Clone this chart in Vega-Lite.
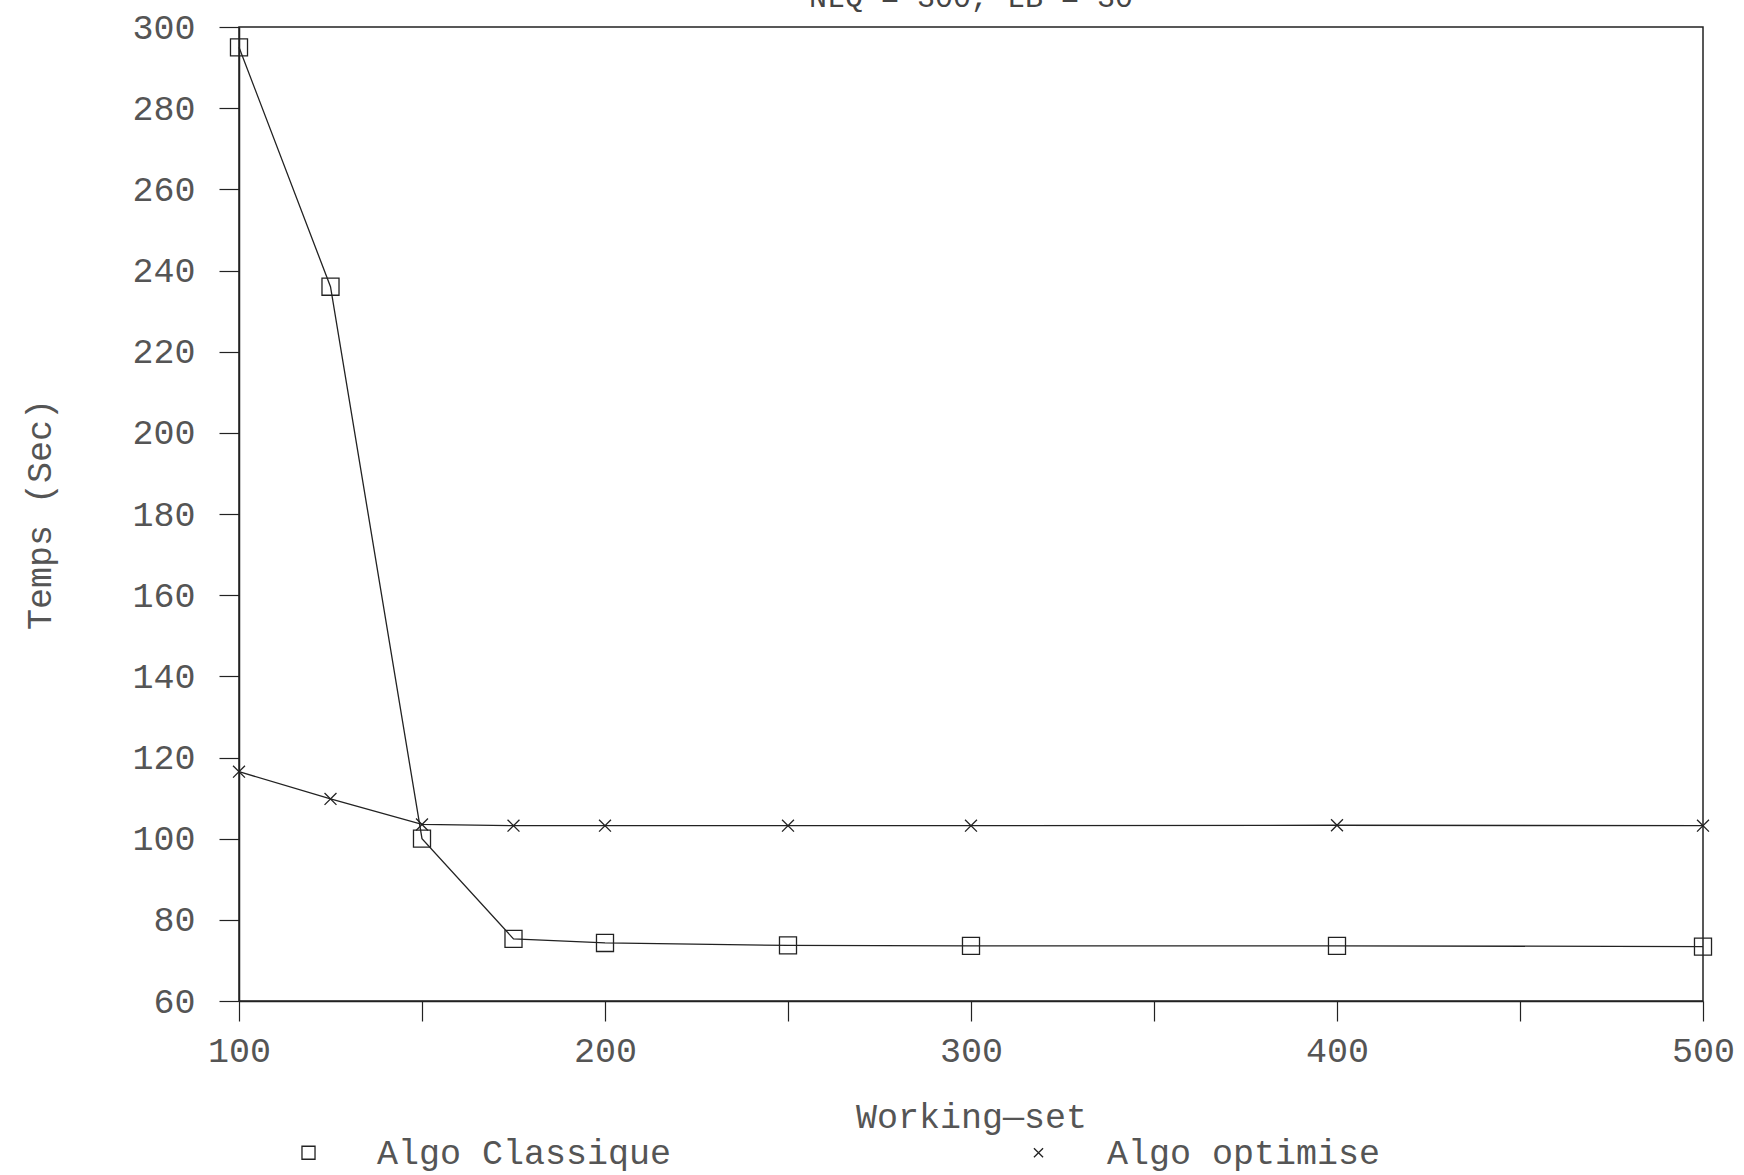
{
  "$schema": "https://vega.github.io/schema/vega-lite/v6.json",
  "autosize": "none",
  "width": 1464,
  "height": 974,
  "padding": {"left": 239, "top": 27, "right": 41, "bottom": 174},
  "background": "white",
  "title": {
    "text": "NLQ = 300, LB = 30",
    "anchor": "middle",
    "frame": "group",
    "offset": 0,
    "dy": 27,
    "baseline": "alphabetic",
    "font": "Liberation Mono",
    "fontSize": 30,
    "fontWeight": "normal",
    "color": "#444"
  },
  "config": {
    "view": {"stroke": "#222", "strokeWidth": 1.5},
    "axis": {
      "labelFont": "Liberation Mono",
      "titleFont": "Liberation Mono",
      "labelFontSize": 35,
      "titleFontSize": 35,
      "titleFontWeight": "normal",
      "labelColor": "#555",
      "titleColor": "#555",
      "domainColor": "#222",
      "domainWidth": 1.5,
      "tickColor": "#222",
      "tickWidth": 1.2,
      "tickSize": 20,
      "grid": false
    },
    "legend": {
      "labelFont": "Liberation Mono",
      "labelFontSize": 35,
      "labelColor": "#555"
    }
  },
  "data": {
    "values": [
      {"ws": 100, "temps": 295, "algo": "Algo Classique"},
      {"ws": 125, "temps": 236, "algo": "Algo Classique"},
      {"ws": 150, "temps": 100, "algo": "Algo Classique"},
      {"ws": 175, "temps": 75.3, "algo": "Algo Classique"},
      {"ws": 200, "temps": 74.3, "algo": "Algo Classique"},
      {"ws": 250, "temps": 73.7, "algo": "Algo Classique"},
      {"ws": 300, "temps": 73.6, "algo": "Algo Classique"},
      {"ws": 400, "temps": 73.6, "algo": "Algo Classique"},
      {"ws": 500, "temps": 73.4, "algo": "Algo Classique"},
      {"ws": 100, "temps": 116.5, "algo": "Algo optimise"},
      {"ws": 125, "temps": 109.8, "algo": "Algo optimise"},
      {"ws": 150, "temps": 103.5, "algo": "Algo optimise"},
      {"ws": 175, "temps": 103.2, "algo": "Algo optimise"},
      {"ws": 200, "temps": 103.2, "algo": "Algo optimise"},
      {"ws": 250, "temps": 103.2, "algo": "Algo optimise"},
      {"ws": 300, "temps": 103.2, "algo": "Algo optimise"},
      {"ws": 400, "temps": 103.3, "algo": "Algo optimise"},
      {"ws": 500, "temps": 103.2, "algo": "Algo optimise"}
    ]
  },
  "encoding": {
    "x": {
      "field": "ws",
      "type": "quantitative",
      "scale": {"domain": [100, 500], "nice": false, "zero": false},
      "axis": {
        "title": "Working—set",
        "values": [100, 150, 200, 250, 300, 350, 400, 450, 500],
        "labelExpr": "datum.value % 100 === 0 ? datum.label : ''",
        "labelBaseline": "middle",
        "labelPadding": 29,
        "labelFlush": false,
        "labelOverlap": false,
        "titleX": 732,
        "titleY": 115,
        "titleBaseline": "middle",
        "titleAlign": "center"
      }
    },
    "y": {
      "field": "temps",
      "type": "quantitative",
      "scale": {"domain": [60, 300], "nice": false, "zero": false},
      "axis": {
        "title": "Temps (Sec)",
        "values": [60, 80, 100, 120, 140, 160, 180, 200, 220, 240, 260, 280, 300],
        "labelPadding": 24,
        "labelFlush": false,
        "labelOverlap": false,
        "titleAngle": -90,
        "titleX": -200,
        "titleY": 487,
        "titleAlign": "center",
        "titleBaseline": "middle"
      }
    }
  },
  "layer": [
    {
      "mark": {"type": "line", "color": "#222", "strokeWidth": 1.3},
      "encoding": {"detail": {"field": "algo"}}
    },
    {
      "mark": {"type": "point", "filled": false, "stroke": "#222", "strokeWidth": 1.3, "size": 290, "opacity": 1},
      "encoding": {
        "shape": {
          "field": "algo",
          "type": "nominal",
          "scale": {
            "domain": ["Algo Classique", "Algo optimise"],
            "range": ["square", "M-0.7,-0.7L0.7,0.7M0.7,-0.7L-0.7,0.7"]
          },
          "legend": {
            "title": null,
            "orient": "none",
            "legendX": 52,
            "legendY": 1108,
            "direction": "horizontal",
            "columns": 2,
            "padding": 0,
            "symbolSize": 170,
            "symbolStrokeColor": "#222",
            "symbolStrokeWidth": 1.3,
            "symbolFillColor": "transparent",
            "labelOffset": 51,
            "columnPadding": 349,
            "labelBaseline": "middle",
            "labelLimit": 400
          }
        }
      }
    }
  ]
}
